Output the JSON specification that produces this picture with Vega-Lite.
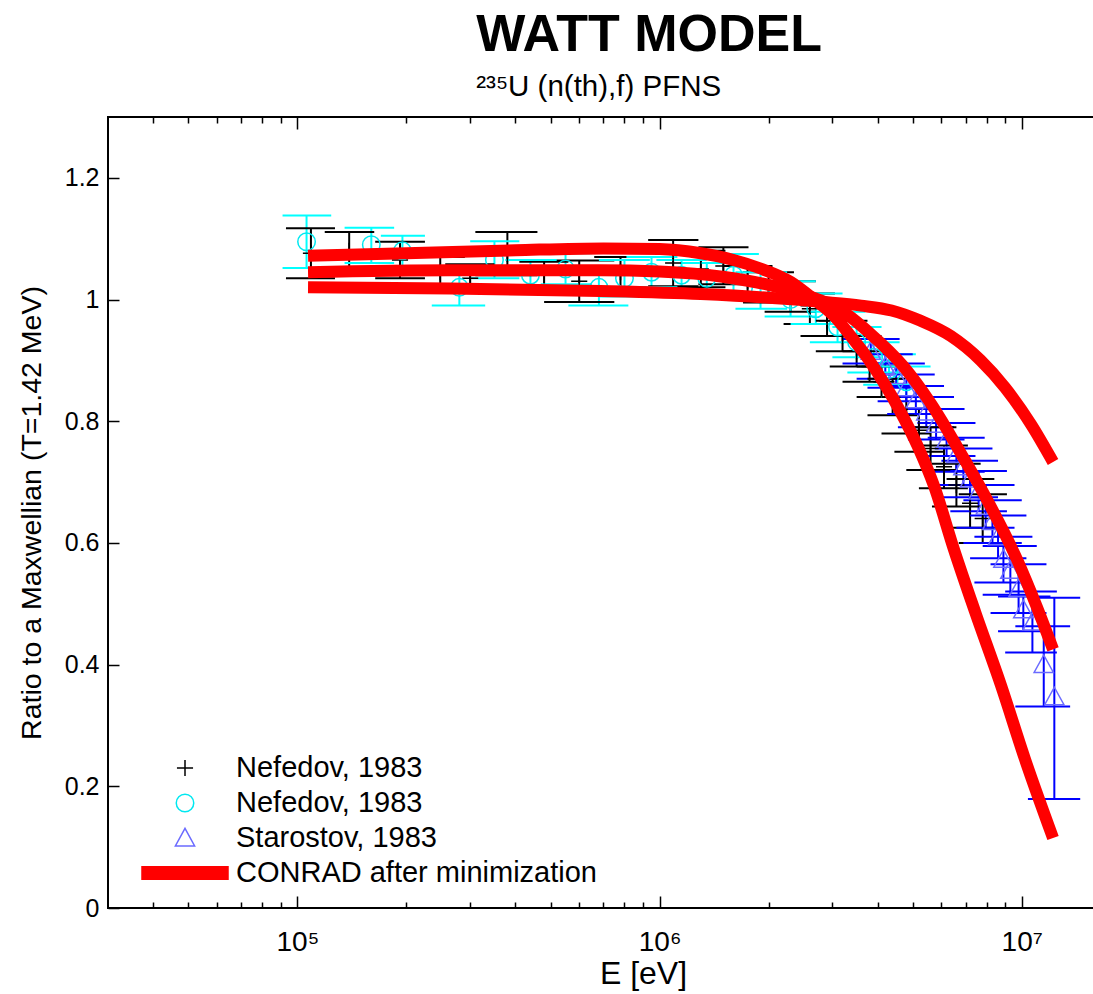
{
  "$schema": "https://vega.github.io/schema/vega-lite/v6.json",
  "width": 1070,
  "height": 791,
  "autosize": {"type": "none"},
  "padding": {"left": 108, "top": 117, "right": -85, "bottom": 86},
  "background": "white",
  "config": {
    "view": {"stroke": "black", "strokeWidth": 2},
    "font": "Liberation Sans"
  },
  "title": {
    "text": "WATT MODEL",
    "subtitle": "²³⁵U (n(th),f) PFNS",
    "anchor": "start",
    "dx": 459,
    "font": "Liberation Sans",
    "fontSize": 52,
    "fontWeight": "bold",
    "color": "black",
    "subtitleFont": "Liberation Sans",
    "subtitleFontSize": 29.5,
    "subtitleColor": "black",
    "subtitlePadding": 11,
    "offset": 14
  },
  "datasets": {
    "pts": [
      {"s": "n1", "E": 109000, "y": 1.076, "lo": 1.035, "hi": 1.117, "El": 93000, "Eh": 127000},
      {"s": "n1", "E": 139000, "y": 1.08, "lo": 1.05, "hi": 1.111, "El": 119000, "Eh": 163000},
      {"s": "n1", "E": 192000, "y": 1.065, "lo": 1.035, "hi": 1.095, "El": 164000, "Eh": 225000},
      {"s": "n1", "E": 248000, "y": 1.045, "lo": 1.02, "hi": 1.07, "El": 212000, "Eh": 290000},
      {"s": "n1", "E": 300000, "y": 1.035, "lo": 1.012, "hi": 1.058, "El": 256000, "Eh": 350000},
      {"s": "n1", "E": 380000, "y": 1.075, "lo": 1.04, "hi": 1.111, "El": 310000, "Eh": 460000},
      {"s": "n1", "E": 480000, "y": 1.04, "lo": 1.018, "hi": 1.062, "El": 410000, "Eh": 560000},
      {"s": "n1", "E": 600000, "y": 1.03, "lo": 0.996, "hi": 1.064, "El": 480000, "Eh": 750000},
      {"s": "n1", "E": 780000, "y": 1.045, "lo": 1.02, "hi": 1.07, "El": 660000, "Eh": 920000},
      {"s": "n1", "E": 1090000, "y": 1.06, "lo": 1.022, "hi": 1.098, "El": 930000, "Eh": 1280000},
      {"s": "n1", "E": 1300000, "y": 1.05, "lo": 1.02, "hi": 1.08, "El": 1100000, "Eh": 1520000},
      {"s": "n1", "E": 1500000, "y": 1.055, "lo": 1.025, "hi": 1.086, "El": 1280000, "Eh": 1760000},
      {"s": "n1", "E": 1750000, "y": 1.03, "lo": 1.005, "hi": 1.055, "El": 1500000, "Eh": 2050000},
      {"s": "n1", "E": 2000000, "y": 1.02, "lo": 0.995, "hi": 1.045, "El": 1700000, "Eh": 2350000},
      {"s": "n1", "E": 2300000, "y": 1.005, "lo": 0.98, "hi": 1.03, "El": 1950000, "Eh": 2700000},
      {"s": "n1", "E": 2600000, "y": 0.985, "lo": 0.96, "hi": 1.01, "El": 2200000, "Eh": 3050000},
      {"s": "n1", "E": 2900000, "y": 0.965, "lo": 0.94, "hi": 0.99, "El": 2450000, "Eh": 3400000},
      {"s": "n1", "E": 3200000, "y": 0.94, "lo": 0.915, "hi": 0.965, "El": 2700000, "Eh": 3750000},
      {"s": "n1", "E": 3500000, "y": 0.915, "lo": 0.89, "hi": 0.94, "El": 2950000, "Eh": 4100000},
      {"s": "n1", "E": 3800000, "y": 0.89, "lo": 0.865, "hi": 0.915, "El": 3200000, "Eh": 4450000},
      {"s": "n1", "E": 4100000, "y": 0.865, "lo": 0.84, "hi": 0.89, "El": 3500000, "Eh": 4800000},
      {"s": "n1", "E": 4400000, "y": 0.84, "lo": 0.81, "hi": 0.87, "El": 3750000, "Eh": 5150000},
      {"s": "n1", "E": 4800000, "y": 0.81, "lo": 0.78, "hi": 0.84, "El": 4100000, "Eh": 5600000},
      {"s": "n1", "E": 5200000, "y": 0.785, "lo": 0.75, "hi": 0.82, "El": 4450000, "Eh": 6100000},
      {"s": "n1", "E": 5600000, "y": 0.755, "lo": 0.72, "hi": 0.79, "El": 4800000, "Eh": 6600000},
      {"s": "n1", "E": 6100000, "y": 0.725, "lo": 0.69, "hi": 0.76, "El": 5200000, "Eh": 7100000},
      {"s": "n1", "E": 6600000, "y": 0.695, "lo": 0.66, "hi": 0.73, "El": 5650000, "Eh": 7700000},
      {"s": "n1", "E": 7200000, "y": 0.665, "lo": 0.625, "hi": 0.705, "El": 6200000, "Eh": 8400000},
      {"s": "n1", "E": 7800000, "y": 0.64, "lo": 0.6, "hi": 0.68, "El": 6700000, "Eh": 9100000},
      {"s": "n2", "E": 106000, "y": 1.095, "lo": 1.052, "hi": 1.138, "El": 91000, "Eh": 124000},
      {"s": "n2", "E": 160000, "y": 1.09, "lo": 1.06, "hi": 1.118, "El": 135000, "Eh": 185000},
      {"s": "n2", "E": 195000, "y": 1.08, "lo": 1.055, "hi": 1.105, "El": 170000, "Eh": 225000},
      {"s": "n2", "E": 280000, "y": 1.02, "lo": 0.99, "hi": 1.05, "El": 235000, "Eh": 330000},
      {"s": "n2", "E": 350000, "y": 1.065, "lo": 1.035, "hi": 1.096, "El": 300000, "Eh": 410000},
      {"s": "n2", "E": 440000, "y": 1.04, "lo": 1.015, "hi": 1.065, "El": 375000, "Eh": 520000},
      {"s": "n2", "E": 550000, "y": 1.05, "lo": 1.025, "hi": 1.076, "El": 470000, "Eh": 650000},
      {"s": "n2", "E": 680000, "y": 1.02, "lo": 0.99, "hi": 1.05, "El": 560000, "Eh": 820000},
      {"s": "n2", "E": 800000, "y": 1.035, "lo": 1.005, "hi": 1.065, "El": 680000, "Eh": 940000},
      {"s": "n2", "E": 950000, "y": 1.045, "lo": 1.02, "hi": 1.07, "El": 810000, "Eh": 1120000},
      {"s": "n2", "E": 1150000, "y": 1.04, "lo": 1.015, "hi": 1.065, "El": 980000, "Eh": 1350000},
      {"s": "n2", "E": 1350000, "y": 1.035, "lo": 1.01, "hi": 1.06, "El": 1150000, "Eh": 1600000},
      {"s": "n2", "E": 1600000, "y": 1.04, "lo": 1.005, "hi": 1.075, "El": 1370000, "Eh": 1880000},
      {"s": "n2", "E": 1900000, "y": 1.015, "lo": 0.985, "hi": 1.045, "El": 1620000, "Eh": 2250000},
      {"s": "n2", "E": 2300000, "y": 1.0, "lo": 0.972, "hi": 1.03, "El": 1950000, "Eh": 2700000},
      {"s": "n2", "E": 2700000, "y": 0.985, "lo": 0.96, "hi": 1.01, "El": 2300000, "Eh": 3200000},
      {"s": "n2", "E": 3100000, "y": 0.955, "lo": 0.93, "hi": 0.98, "El": 2600000, "Eh": 3700000},
      {"s": "n2", "E": 3500000, "y": 0.93, "lo": 0.905, "hi": 0.955, "El": 3000000, "Eh": 4100000},
      {"s": "n2", "E": 3900000, "y": 0.905, "lo": 0.88, "hi": 0.93, "El": 3300000, "Eh": 4600000},
      {"s": "n2", "E": 4300000, "y": 0.885, "lo": 0.86, "hi": 0.91, "El": 3650000, "Eh": 5100000},
      {"s": "n2", "E": 4800000, "y": 0.865, "lo": 0.84, "hi": 0.89, "El": 4100000, "Eh": 5600000},
      {"s": "st", "E": 3830000, "y": 0.915, "lo": 0.895, "hi": 0.935, "El": 3200000, "Eh": 4600000},
      {"s": "st", "E": 4200000, "y": 0.89, "lo": 0.87, "hi": 0.91, "El": 3500000, "Eh": 5000000},
      {"s": "st", "E": 4500000, "y": 0.875, "lo": 0.855, "hi": 0.895, "El": 3750000, "Eh": 5400000},
      {"s": "st", "E": 4800000, "y": 0.855, "lo": 0.833, "hi": 0.877, "El": 4000000, "Eh": 5750000},
      {"s": "st", "E": 5100000, "y": 0.835, "lo": 0.812, "hi": 0.858, "El": 4250000, "Eh": 6100000},
      {"s": "st", "E": 5450000, "y": 0.815, "lo": 0.79, "hi": 0.84, "El": 4550000, "Eh": 6500000},
      {"s": "st", "E": 5800000, "y": 0.795, "lo": 0.77, "hi": 0.82, "El": 4850000, "Eh": 6950000},
      {"s": "st", "E": 6200000, "y": 0.77, "lo": 0.743, "hi": 0.797, "El": 5150000, "Eh": 7450000},
      {"s": "st", "E": 6600000, "y": 0.745, "lo": 0.717, "hi": 0.773, "El": 5500000, "Eh": 7900000},
      {"s": "st", "E": 6900000, "y": 0.725, "lo": 0.695, "hi": 0.755, "El": 5750000, "Eh": 8300000},
      {"s": "st", "E": 7200000, "y": 0.705, "lo": 0.675, "hi": 0.735, "El": 6000000, "Eh": 8600000},
      {"s": "st", "E": 7600000, "y": 0.685, "lo": 0.652, "hi": 0.718, "El": 6350000, "Eh": 9100000},
      {"s": "st", "E": 7950000, "y": 0.66, "lo": 0.625, "hi": 0.695, "El": 6600000, "Eh": 9550000},
      {"s": "st", "E": 8300000, "y": 0.635, "lo": 0.6, "hi": 0.67, "El": 6900000, "Eh": 10000000},
      {"s": "st", "E": 8600000, "y": 0.61, "lo": 0.575, "hi": 0.645, "El": 7200000, "Eh": 10300000},
      {"s": "st", "E": 8900000, "y": 0.573, "lo": 0.535, "hi": 0.61, "El": 7400000, "Eh": 10700000},
      {"s": "st", "E": 9300000, "y": 0.555, "lo": 0.515, "hi": 0.595, "El": 7800000, "Eh": 11000000},
      {"s": "st", "E": 9800000, "y": 0.525, "lo": 0.485, "hi": 0.565, "El": 8200000, "Eh": 11700000},
      {"s": "st", "E": 10100000, "y": 0.49, "lo": 0.455, "hi": 0.512, "El": 8600000, "Eh": 12000000},
      {"s": "st", "E": 10700000, "y": 0.47, "lo": 0.42, "hi": 0.52, "El": 9000000, "Eh": 12500000},
      {"s": "st", "E": 11500000, "y": 0.4, "lo": 0.331, "hi": 0.463, "El": 9600000, "Eh": 13600000},
      {"s": "st", "E": 12300000, "y": 0.347, "lo": 0.179, "hi": 0.51, "El": 10400000, "Eh": 14500000}
    ],
    "curves": [
      {"c": "a", "E": 107000, "r": 1.072},
      {"c": "a", "E": 200000, "r": 1.076},
      {"c": "a", "E": 400000, "r": 1.081},
      {"c": "a", "E": 700000, "r": 1.084},
      {"c": "a", "E": 1000000, "r": 1.083},
      {"c": "a", "E": 1300000, "r": 1.076},
      {"c": "a", "E": 1600000, "r": 1.065},
      {"c": "a", "E": 1900000, "r": 1.051},
      {"c": "a", "E": 2300000, "r": 1.029},
      {"c": "a", "E": 2610000, "r": 1.005},
      {"c": "a", "E": 3030000, "r": 0.973},
      {"c": "a", "E": 3370000, "r": 0.94},
      {"c": "a", "E": 3770000, "r": 0.902},
      {"c": "a", "E": 4190000, "r": 0.86},
      {"c": "a", "E": 4630000, "r": 0.815},
      {"c": "a", "E": 5150000, "r": 0.76},
      {"c": "a", "E": 5730000, "r": 0.693},
      {"c": "a", "E": 6500000, "r": 0.589},
      {"c": "a", "E": 7450000, "r": 0.485},
      {"c": "a", "E": 8750000, "r": 0.367},
      {"c": "a", "E": 10200000, "r": 0.245},
      {"c": "a", "E": 12200000, "r": 0.115},
      {"c": "b", "E": 107000, "r": 1.045},
      {"c": "b", "E": 265000, "r": 1.048},
      {"c": "b", "E": 687000, "r": 1.048},
      {"c": "b", "E": 1000000, "r": 1.046},
      {"c": "b", "E": 1510000, "r": 1.037},
      {"c": "b", "E": 2070000, "r": 1.022},
      {"c": "b", "E": 2500000, "r": 1.008},
      {"c": "b", "E": 2900000, "r": 0.994},
      {"c": "b", "E": 3300000, "r": 0.975},
      {"c": "b", "E": 3800000, "r": 0.945},
      {"c": "b", "E": 4700000, "r": 0.891},
      {"c": "b", "E": 5600000, "r": 0.83},
      {"c": "b", "E": 6900000, "r": 0.74},
      {"c": "b", "E": 8000000, "r": 0.672},
      {"c": "b", "E": 9750000, "r": 0.57},
      {"c": "b", "E": 11000000, "r": 0.495},
      {"c": "b", "E": 12200000, "r": 0.425},
      {"c": "c", "E": 107000, "r": 1.02},
      {"c": "c", "E": 265000, "r": 1.018},
      {"c": "c", "E": 687000, "r": 1.014},
      {"c": "c", "E": 1300000, "r": 1.009},
      {"c": "c", "E": 2000000, "r": 1.003},
      {"c": "c", "E": 2850000, "r": 0.996},
      {"c": "c", "E": 3600000, "r": 0.99},
      {"c": "c", "E": 4370000, "r": 0.982},
      {"c": "c", "E": 5260000, "r": 0.965},
      {"c": "c", "E": 6370000, "r": 0.94},
      {"c": "c", "E": 7700000, "r": 0.9},
      {"c": "c", "E": 9000000, "r": 0.855},
      {"c": "c", "E": 10600000, "r": 0.795},
      {"c": "c", "E": 12200000, "r": 0.733}
    ]
  },
  "resolve": {"axis": {"x": "independent"}},
  "layer": [
    {
      "data": {"name": "pts"},
      "mark": {"type": "rule", "strokeWidth": 2},
      "encoding": {
        "x": {
          "field": "E", "type": "quantitative",
          "scale": {"type": "log", "domain": [30000, 27000000], "nice": false},
          "axis": {
            "orient": "bottom",
            "title": "E [eV]",
            "values": [40000, 50000, 60000, 70000, 80000, 90000, 100000, 200000, 300000, 400000, 500000, 600000, 700000, 800000, 900000, 1000000, 2000000, 3000000, 4000000, 5000000, 6000000, 7000000, 8000000, 9000000, 10000000, 20000000],
            "labelExpr": "datum.value == 100000 ? '10⁵' : datum.value == 1000000 ? '10⁶' : datum.value == 10000000 ? '10⁷' : ''",
            "domain": false,
            "grid": false,
            "ticks": true,
            "tickColor": "black",
            "tickWidth": 1.5,
            "tickSize": {"condition": {"test": "datum.value == 100000 || datum.value == 1000000 || datum.value == 10000000", "value": -12}, "value": -6},
            "labelPadding": 32,
            "labelFont": "Liberation Sans",
            "labelFontSize": 28,
            "labelColor": "black",
            "labelOverlap": false,
            "labelFlush": false,
            "labelBound": false,
            "titleFont": "Liberation Sans",
            "titleFontSize": 32,
            "titleFontWeight": "normal",
            "titleColor": "black",
            "titlePadding": -4
          }
        },
        "y": {
          "field": "lo", "type": "quantitative",
          "scale": {"domain": [0, 1.3], "nice": false},
          "axis": {
            "orient": "left",
            "title": "Ratio to a Maxwellian (T=1.42 MeV)",
            "values": [0, 0.2, 0.4, 0.6, 0.8, 1, 1.2],
            "format": "~g",
            "domain": false,
            "grid": false,
            "tickColor": "black",
            "tickWidth": 1.5,
            "tickSize": -11,
            "labelPadding": 20,
            "labelFont": "Liberation Sans",
            "labelFontSize": 25,
            "labelColor": "black",
            "titleFont": "Liberation Sans",
            "titleFontSize": 28.5,
            "titleFontWeight": "normal",
            "titleColor": "black",
            "titlePadding": 18
          }
        },
        "y2": {"field": "hi"},
        "stroke": {
          "field": "s", "type": "nominal",
          "scale": {"domain": ["n1", "n2", "st"], "range": ["#000000", "#00ffff", "#0000ff"]},
          "legend": null
        }
      }
    },
    {
      "data": {"name": "pts"},
      "mark": {"type": "rule", "strokeWidth": 2},
      "encoding": {
        "x": {
          "field": "El", "type": "quantitative",
          "axis": {
            "orient": "top",
            "title": null,
            "labels": false,
            "values": [40000, 50000, 60000, 70000, 80000, 90000, 100000, 200000, 300000, 400000, 500000, 600000, 700000, 800000, 900000, 1000000, 2000000, 3000000, 4000000, 5000000, 6000000, 7000000, 8000000, 9000000, 10000000, 20000000],
            "domain": false,
            "grid": false,
            "tickColor": "black",
            "tickWidth": 1.5,
            "tickSize": {"condition": {"test": "datum.value == 100000 || datum.value == 1000000 || datum.value == 10000000", "value": -12}, "value": -6}
          }
        },
        "x2": {"field": "Eh"},
        "y": {"field": "lo", "type": "quantitative"},
        "stroke": {"field": "s", "type": "nominal", "legend": null}
      }
    },
    {
      "data": {"name": "pts"},
      "mark": {"type": "rule", "strokeWidth": 2},
      "encoding": {
        "x": {"field": "El", "type": "quantitative", "axis": null},
        "x2": {"field": "Eh"},
        "y": {"field": "hi", "type": "quantitative"},
        "stroke": {"field": "s", "type": "nominal", "legend": null}
      }
    },
    {
      "data": {"name": "pts"},
      "mark": {"type": "point", "filled": false, "size": 1225, "strokeWidth": 1.5, "opacity": 1},
      "encoding": {
        "x": {"field": "E", "type": "quantitative", "axis": null},
        "y": {"field": "y", "type": "quantitative"},
        "color": {
          "field": "s", "type": "nominal",
          "scale": {"domain": ["n1", "n2", "st", "cr"], "range": ["#000000", "#00e8f0", "#6b6bff", "#ff0000"]},
          "legend": {
            "title": null,
            "orient": "none",
            "legendX": 58.5,
            "legendY": 632.5,
            "padding": 0,
            "rowPadding": 1,
            "symbolSize": 1225,
            "symbolStrokeWidth": 1.5,
            "labelOffset": 32.5,
            "labelFont": "Liberation Sans",
            "labelFontSize": 29,
            "labelColor": "black",
            "labelLimit": 600,
            "labelExpr": "datum.value == 'st' ? 'Starostov, 1983' : datum.value == 'cr' ? 'CONRAD after minimization' : 'Nefedov, 1983'"
          }
        },
        "shape": {
          "field": "s", "type": "nominal",
          "scale": {"domain": ["n1", "n2", "st", "cr"], "range": ["M-0.46,0H0.46M0,-0.46V0.46", "M-0.5,0A0.5,0.5,0,1,0,0.5,0A0.5,0.5,0,1,0,-0.5,0Z", "M0,-0.55L0.55,0.45L-0.55,0.45Z", "M-2.5,-0.36H2.5M-2.5,-0.28H2.5M-2.5,-0.2H2.5M-2.5,-0.12H2.5M-2.5,-0.04H2.5M-2.5,0.04H2.5M-2.5,0.12H2.5M-2.5,0.2H2.5M-2.5,0.28H2.5M-2.5,0.36H2.5"]},
          "legend": {
            "title": null,
            "orient": "none",
            "legendX": 58.5,
            "legendY": 632.5,
            "padding": 0,
            "rowPadding": 1,
            "symbolSize": 1225,
            "symbolStrokeWidth": 1.5,
            "labelOffset": 32.5,
            "labelFont": "Liberation Sans",
            "labelFontSize": 29,
            "labelColor": "black",
            "labelLimit": 600,
            "labelExpr": "datum.value == 'st' ? 'Starostov, 1983' : datum.value == 'cr' ? 'CONRAD after minimization' : 'Nefedov, 1983'"
          }
        }
      }
    },
    {
      "data": {"name": "curves"},
      "mark": {"type": "line", "strokeWidth": 12, "color": "#ff0000", "interpolate": "monotone", "strokeCap": "butt"},
      "encoding": {
        "x": {"field": "E", "type": "quantitative", "axis": null},
        "y": {"field": "r", "type": "quantitative"},
        "detail": {"field": "c", "type": "nominal"}
      }
    }
  ]
}
